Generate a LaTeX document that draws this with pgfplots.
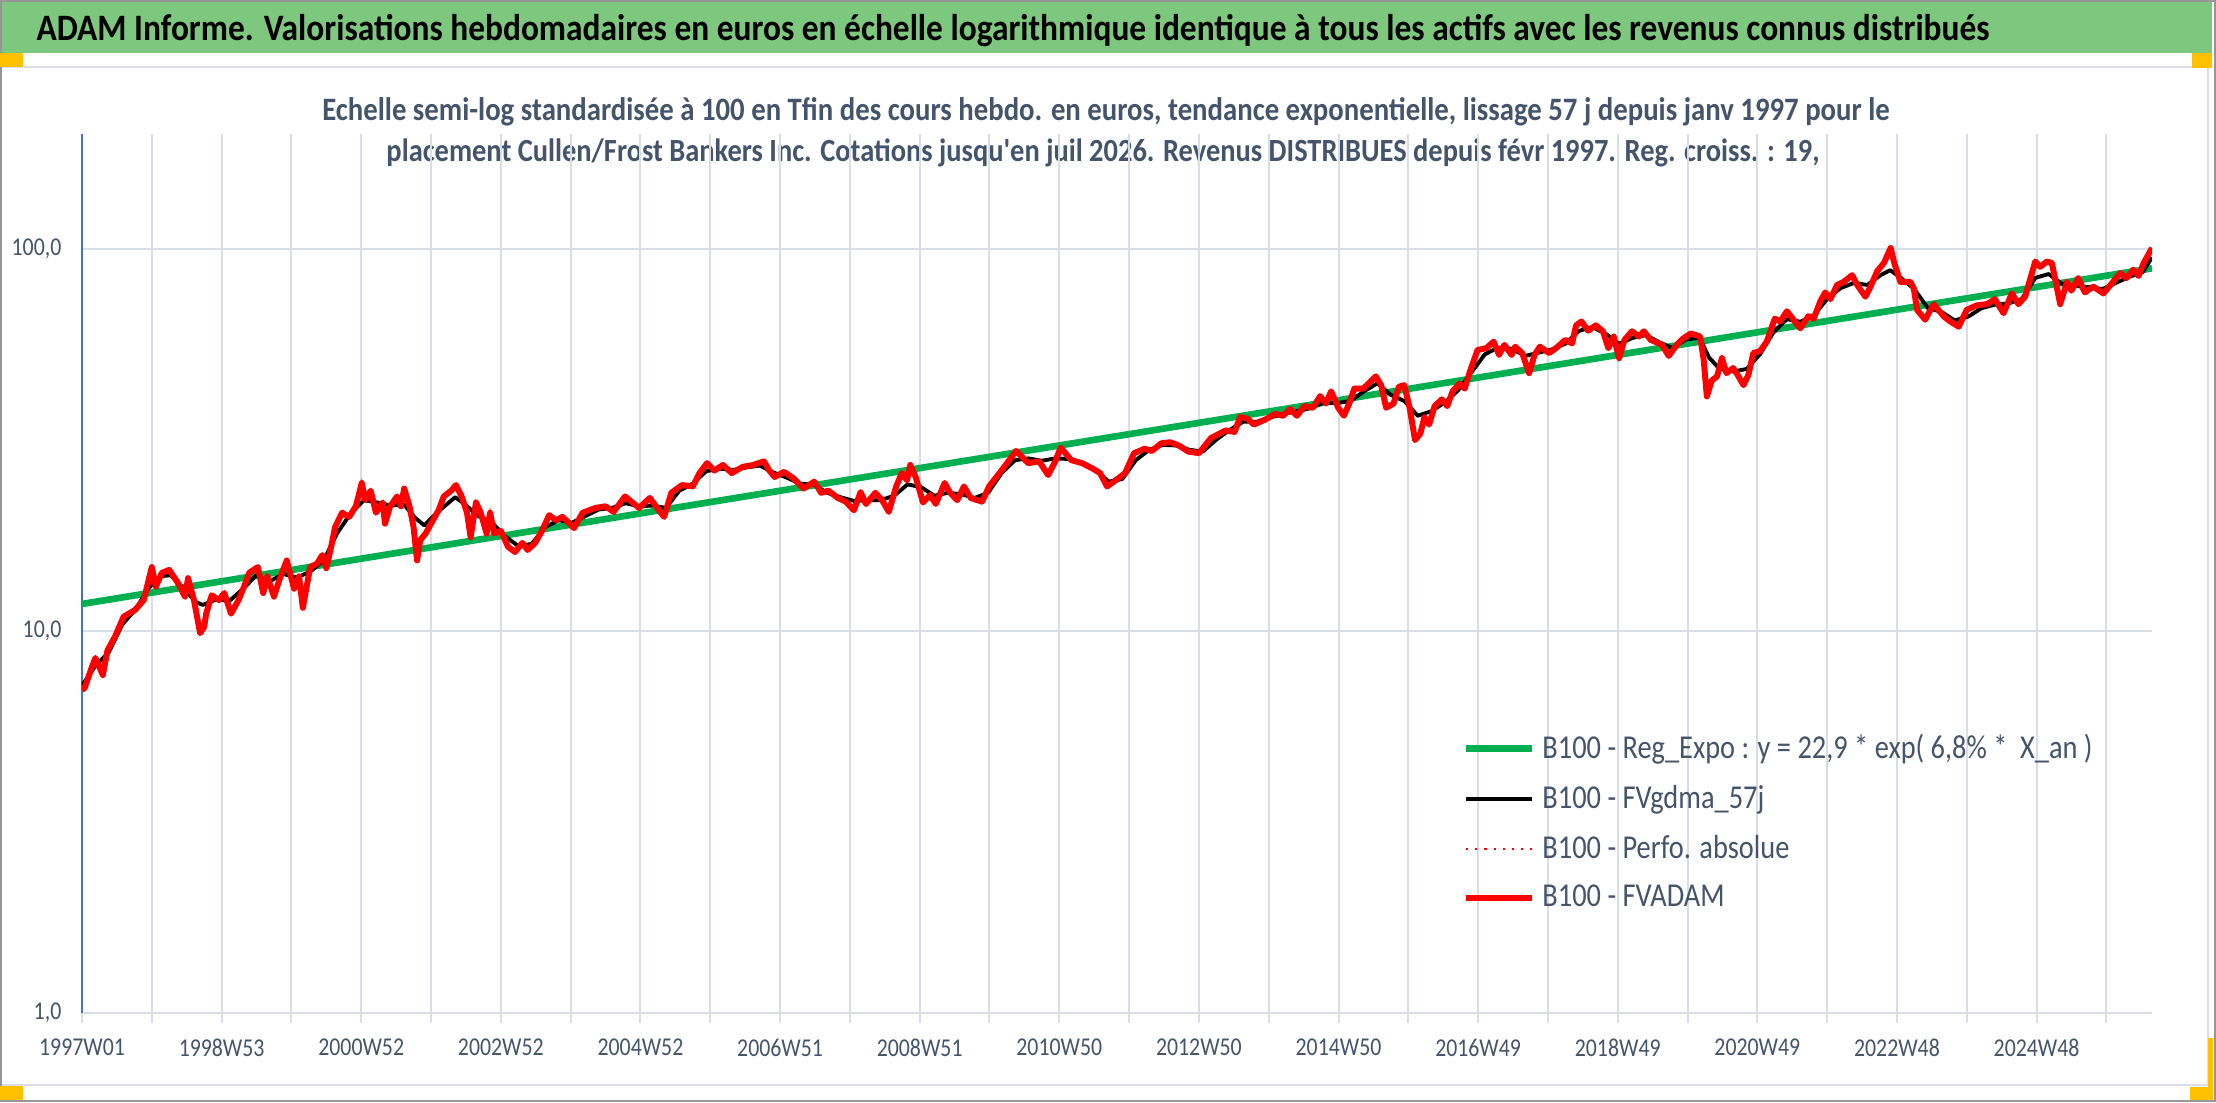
\documentclass[border=0pt]{standalone}
\usepackage{fontspec}
\setmainfont{Carlito}[FakeStretch=0.85,Ligatures=TeXOff]
\newfontfamily\titlefont{Carlito}[FakeStretch=0.897,Ligatures=TeXOff]
\newfontfamily\subfont{Carlito}[FakeStretch=0.88,Ligatures=TeXOff]
\usepackage{pgfplots}
\usepackage{pgfplotstable}
\pgfplotsset{compat=1.18}
\definecolor{bandgreen}{RGB}{126,199,126}
\definecolor{slate}{RGB}{68,84,106}
\definecolor{gridc}{RGB}{217,222,230}
\definecolor{axblue}{RGB}{68,114,196}
\definecolor{handle}{RGB}{255,192,0}
\definecolor{regg}{RGB}{0,176,80}
\definecolor{borderg}{RGB}{150,150,150}

\pgfplotstableread{
w v
0 7.0
2 7.1
7.5 8.07
10 8.5
15.5 7.67
19 8.9
24.6 9.67
31 10.9
39.5 11.35
46 12.05
52 14.7
55 13.06
59.5 14.2
65 14.45
71.5 13.35
76.7 12.3
79 13.75
83.4 12.05
88 9.87
91 10.26
92.5 11.1
96.6 12.4
102 12.05
106 12.57
111 11.1
116.6 12.05
120.7 13.06
124.6 14.2
131 14.7
135 12.57
138 13.9
143 12.3
147 13.6
152.5 15.3
158 12.9
161.7 13.9
164.5 11.5
170 14.7
175 15.0
179 15.8
182 14.6
185.6 16.6
188.5 18.7
193.8 20.4
199 19.9
204 21.2
208.4 24.4
211 22.0
215 23.3
219 20.4
224 21.7
225.7 19.1
229.5 21.2
234.7 22.5
237.6 21.2
240 23.6
244 21.2
247 18.7
249.6 15.3
252 17.3
256 18.0
260 19.1
265.6 20.7
269.5 22.5
275 23.3
278.6 24.1
282.8 22.5
286.8 20.4
289.5 17.6
293.5 21.7
297 20.4
301.4 18.0
304 20.4
307 18.0
312 18.3
317.4 16.6
322.6 16.1
328 17.0
332 16.3
337.5 17.0
342.7 18.3
348 20.1
353 19.5
358 19.9
366.5 18.6
373 20.4
382.6 21.0
390 21.2
396 20.5
404.5 22.5
415 21.0
423 22.3
428.4 21.0
433.6 19.9
439 23.0
447 24.1
455 23.9
460 25.9
465.6 27.5
471 26.3
477.5 27.2
484 25.9
492.3 26.9
500 27.2
508 27.8
512 26.3
516 25.3
523 26.1
530 25.1
537.5 23.6
545.5 24.6
550.6 23.0
556 23.3
563 22.3
569 21.8
575 20.7
580 23.1
584 21.5
591 23.0
596 22.0
601 20.5
606.5 23.9
610.7 25.9
614.6 24.8
617 27.2
621 25.3
626.5 21.7
631.8 22.7
636 21.5
642.6 24.4
646.7 23.0
652 22.0
657 23.9
662 22.3
670.5 21.8
675.7 23.9
686 26.6
695.8 29.6
704.8 27.5
713 27.8
719.7 25.6
725 27.8
729 30.2
737 28.0
745 27.5
753 26.6
758.4 25.9
763.6 23.9
770 24.8
777 25.9
783.7 29.2
791.5 30.0
797 29.6
804 31.0
810.6 31.2
817 30.6
824 29.5
832 29.2
841 32.0
852 33.5
858.6 33.2
862.7 36.3
868 36.0
873 34.7
881 35.7
889 37.0
894.7 36.6
900 38.1
905 36.6
910.5 38.8
917 38.4
922.3 41.2
926.6 39.4
930.5 42.4
935.8 38.4
940 36.6
944 39.4
947.8 43.1
954.5 43.1
959.6 44.9
963.8 46.4
967.8 44.0
971.5 38.4
977 39.4
981 43.6
985 44.0
989 38.4
993 31.6
997 32.9
1000 36.3
1003.5 34.7
1007.6 38.8
1013 40.4
1017 38.8
1021 42.4
1026 44.4
1030 43.1
1034 47.9
1039.6 54.4
1046 55.0
1051.6 57.2
1055.6 52.8
1059.6 56.1
1065 52.8
1067.6 55.5
1072.8 53.4
1078 47.3
1082 52.8
1086 55.5
1093 53.4
1098 55.0
1105 57.8
1110 56.6
1113 63.1
1117 64.6
1122 61.1
1127.7 63.1
1133 60.9
1137 55.0
1141 59.0
1145 51.8
1149 57.8
1154.6 60.9
1159.7 59.0
1163.5 60.9
1168.6 57.8
1177 56.1
1182 52.5
1188 56.1
1193 58.4
1198.5 60.1
1205.4 59.0
1208 51.4
1210.4 41.1
1214 45.2
1218 46.4
1221.6 51.8
1225 47.3
1230 48.8
1234 46.4
1237.7 44.0
1241.4 46.9
1245 53.4
1250 54.0
1255 57.2
1261 65.7
1265 64.6
1270 68.7
1275 65.3
1280 62.0
1286 66.7
1290 65.7
1295 73.1
1298.6 77.0
1302.4 73.9
1307.4 80.5
1312.3 82.0
1318.6 85.4
1322.4 80.5
1328.5 75.0
1332.3 79.7
1337.3 87.5
1342.3 91.9
1347.3 100.6
1350 91.9
1354.6 82.0
1362 82.0
1364.5 79.0
1367 69.3
1373 65.3
1379.4 71.7
1386.7 66.7
1391.7 64.6
1398 62.6
1404 69.3
1411.5 71.2
1419 71.7
1425 73.9
1431.4 67.9
1437.6 76.5
1442.5 71.7
1447.5 75.0
1455 92.7
1458.7 89.8
1463.7 92.7
1467.4 91.9
1471 79.7
1473.6 71.7
1478.6 82.0
1482 77.8
1487 83.9
1492 77.0
1498.4 79.7
1505.8 76.5
1512 81.2
1518.3 86.5
1523 83.9
1528 88.3
1532 85.0
1535.8 91.9
1542 100.6
}\redtab

\pgfplotstableread{
w v
0 7.2
10 8.1
20 8.8
30 10.4
40 11.4
50 13.0
58 13.9
66 14.0
75 13.0
85 11.9
90 11.7
100 12.1
110 12.0
120 12.9
130 14.0
140 13.5
150 14.1
160 13.8
170 14.3
180 15.3
190 18.0
200 20.3
210 22.0
220 21.7
230 21.3
240 21.4
248 19.8
255 18.9
265 20.5
278 22.4
285 21.5
295 20.0
305 19.3
315 17.7
325 16.7
335 16.9
345 18.7
355 19.5
365 19.2
375 20.0
385 20.8
395 21.0
405 21.6
415 21.2
425 21.3
435 21.0
445 23.3
455 24.3
465 26.2
475 26.6
485 26.4
495 26.8
505 27.1
515 26.0
525 25.2
535 24.3
545 24.2
555 23.0
565 22.4
575 21.9
585 22.0
595 22.0
605 22.6
615 24.2
625 23.8
635 22.6
645 23.0
655 22.8
665 22.3
675 23.0
685 25.9
695 28.0
705 28.3
715 27.9
725 28.3
735 28.2
745 27.5
755 26.3
765 24.6
775 25.0
785 28.0
795 29.8
805 30.7
815 30.6
825 29.8
835 29.5
845 31.7
855 33.6
865 35.3
875 35.3
885 36.2
895 37.0
905 37.6
915 38.3
925 39.6
935 39.5
945 40.0
955 42.4
965 44.5
975 41.5
985 40.0
995 36.6
1005 37.6
1015 39.6
1025 42.6
1035 47.5
1045 53.0
1055 55.2
1065 54.8
1075 52.5
1085 53.5
1095 54.6
1105 56.5
1115 61.0
1125 62.5
1135 60.0
1145 56.5
1155 58.5
1165 59.5
1175 57.0
1185 55.0
1195 58.0
1205 58.5
1212 52.0
1220 48.5
1230 47.8
1240 48.5
1250 53.0
1260 60.5
1270 65.5
1280 64.5
1290 67.0
1300 74.0
1310 79.0
1320 81.5
1330 80.5
1340 85.5
1347 88.0
1355 84.0
1365 78.5
1375 70.0
1385 68.5
1395 65.0
1405 66.5
1415 70.0
1425 71.5
1435 72.0
1445 74.0
1455 84.0
1465 86.0
1475 81.0
1485 80.0
1495 79.5
1505 78.5
1515 81.5
1525 84.5
1535 87.0
1542 95.0
}\blacktab

\begin{document}
\begin{tikzpicture}
\useasboundingbox (0,0) rectangle (221.6mm,110.2mm);
\fill[white] (0,0) rectangle (221.6mm,110.2mm);
\fill[bandgreen] (0,104.9mm) rectangle (221.2mm,110.2mm);
\draw[gridc, line width=0.2mm] (0,103.5mm) -- (220.8mm,103.5mm);
\draw[gridc, line width=0.2mm] (0,1.7mm) -- (220.8mm,1.7mm);
\draw[gridc, line width=0.2mm] (220.8mm,1.7mm) -- (220.8mm,103.5mm);
\draw[borderg, line width=0.2mm] (0.1mm,0.1mm) rectangle (221.5mm,110.1mm);
\fill[handle] (0,103.5mm) rectangle (2.3mm,104.9mm);
\fill[handle] (219.2mm,103.4mm) rectangle (221.2mm,104.9mm);
\fill[handle] (0,0.2mm) rectangle (2.3mm,1.6mm);
\fill[handle] (219.0mm,0.2mm) rectangle (221.3mm,1.5mm);
\fill[handle] (220.8mm,0.2mm) rectangle (221.3mm,6.4mm);

\node[anchor=base west, inner sep=0pt, font=\titlefont\fontsize{10.6}{12}\selectfont\bfseries] at (3.6mm,106.1mm)
 {ADAM Informe. Valorisations hebdomadaires en euros en échelle logarithmique identique à tous les actifs avec les revenus connus distribués};
\node[anchor=base, inner sep=0pt, text=slate, font=\subfont\fontsize{9.3}{10}\selectfont\bfseries] at (110.6mm,98.1mm)
 {Echelle semi-log standardisée à 100 en Tfin des cours hebdo. en euros, tendance exponentielle, lissage 57 j depuis janv 1997 pour le};
\node[anchor=base, inner sep=0pt, text=slate, font=\subfont\fontsize{9.2}{10}\selectfont\bfseries] at (110.3mm,94.0mm)
 {placement Cullen/Frost Bankers Inc. Cotations jusqu'en juil 2026. Revenus DISTRIBUES depuis févr 1997. Reg. croiss. : 19,};

\begin{axis}[
  at={(8.2mm,8.9mm)}, anchor=south west,
  scale only axis, width=207mm, height=87.9mm,
  xmin=0, xmax=1542, ymode=log, log basis y=10, ymin=1, ymax=200,
  axis x line*=bottom, axis y line*=left,
  x axis line style={gridc, line width=0.2mm},
  y axis line style={axblue, line width=0.15mm},
  xtick={0,52,...,1508},
  xticklabels={1997W01,,1998W53,,2000W52,,2002W52,,2004W52,,2006W51,,2008W51,,2010W50,,2012W50,,2014W50,,2016W49,,2018W49,,2020W49,,2022W48,,2024W48,},
  ytick={1,10,100}, yticklabels={{1,0},{10,0},{100,0}},
  yminorticks=false, xminorticks=false,
  xmajorgrids, ymajorgrids,
  grid style={gridc, line width=0.2mm},
  tick align=outside, major tick length=1mm,
  x tick style={gridc, line width=0.2mm},
  y tick style={draw=none},
  ticklabel style={font=\fontsize{7.3}{8}\selectfont, text=slate},
  xticklabel style={anchor=north, inner sep=0pt, yshift=-1.5mm},
  yticklabel style={anchor=east, inner sep=0pt, xshift=-1mm},
  legend style={at={(0.6667,0.3265)}, anchor=north west, draw=none, fill=none,
    font=\fontsize{9.5}{11}\selectfont, text=slate, row sep=0.75mm, inner sep=0pt},
  legend cell align=left,
  legend image code/.code={\draw[#1] (0mm,0mm) -- (6.6mm,0mm);},
]
\addplot[regg, line width=1.9pt] coordinates {(0,11.77) (1542,89.0)};
\addlegendentry{B100 - Reg\_Expo : y = 22,9 * exp( 6,8\% *\ \ X\_an )}
\addplot[black, line width=1.1pt, line join=round] table[x=w,y=v] {\blacktab};
\addlegendentry{B100 - FVgdma\_57j}
\addplot[red, line width=0.6pt, dotted] table[x=w,y=v] {\redtab};
\addlegendentry{B100 - Perfo. absolue}
\addplot[red, line width=1.7pt, line join=round] table[x=w,y=v] {\redtab};
\addlegendentry{B100 - FVADAM}
\end{axis}
\end{tikzpicture}
\end{document}
